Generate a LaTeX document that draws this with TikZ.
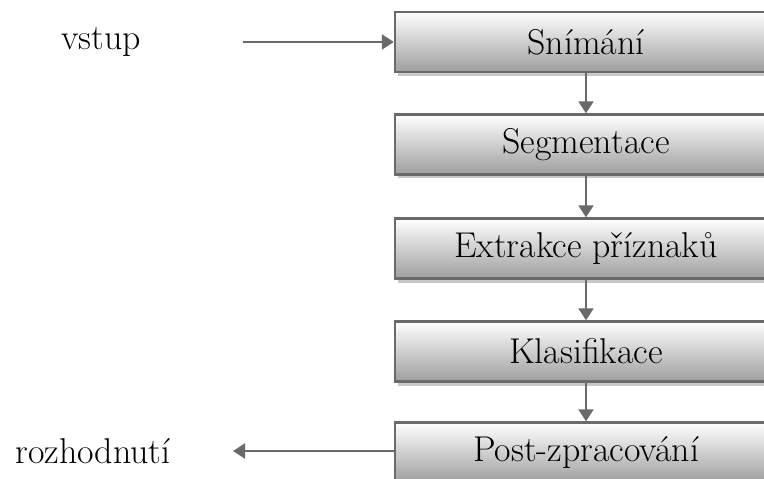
\documentclass[tikz,border=0pt]{standalone}
\usetikzlibrary{arrows.meta,shadows}
\definecolor{edgegray}{HTML}{6A6A6A}
\definecolor{shadowgray}{HTML}{C8C8C8}
\tikzset{
  stepbox/.style={draw=edgegray, line width=2.4bp, minimum width=382bp, minimum height=60bp,
    inner sep=0pt, top color=white, bottom color=black!38, font=\fontsize{36}{40}\selectfont,
    drop shadow={shadow xshift=3bp, shadow yshift=-4bp, fill=shadowgray, opacity=1}},
  lbl/.style={font=\fontsize{36}{40}\selectfont, inner sep=0pt},
  flow/.style={draw=edgegray, line width=2.2bp, -{Triangle[length=12bp,width=15bp]}, shorten >=0pt}
}
\begin{document}
\begin{tikzpicture}[x=1bp,y=-1bp]
\useasboundingbox (0,0) rectangle (764,479);
\clip (0,0) rectangle (764,479);
\node[stepbox] (b1) at (586,42) {Snímání};
\node[stepbox] (b2) at (586,144.5) {Segmentace};
\node[stepbox] (b3) at (586,248.5) {Extrakce příznaků};
\node[stepbox] (b4) at (586,351.5) {Klasifikace};
\node[stepbox] (b5) at (586,452.5) {Post-zpracování};
\node[lbl] (in) at (101,42) {vstup};
\node[lbl] (out) at (93,451) {rozhodnutí};
\coordinate (ins) at (243,42);
\coordinate (oute) at (233,451);
\draw[flow] (ins) -- (b1.west);
\draw[flow] (b1) -- (b2);
\draw[flow] (b2) -- (b3);
\draw[flow] (b3) -- (b4);
\draw[flow] (b4) -- (b5);
\draw[flow] (b5.west |- oute) -- (oute);
\end{tikzpicture}
\end{document}
